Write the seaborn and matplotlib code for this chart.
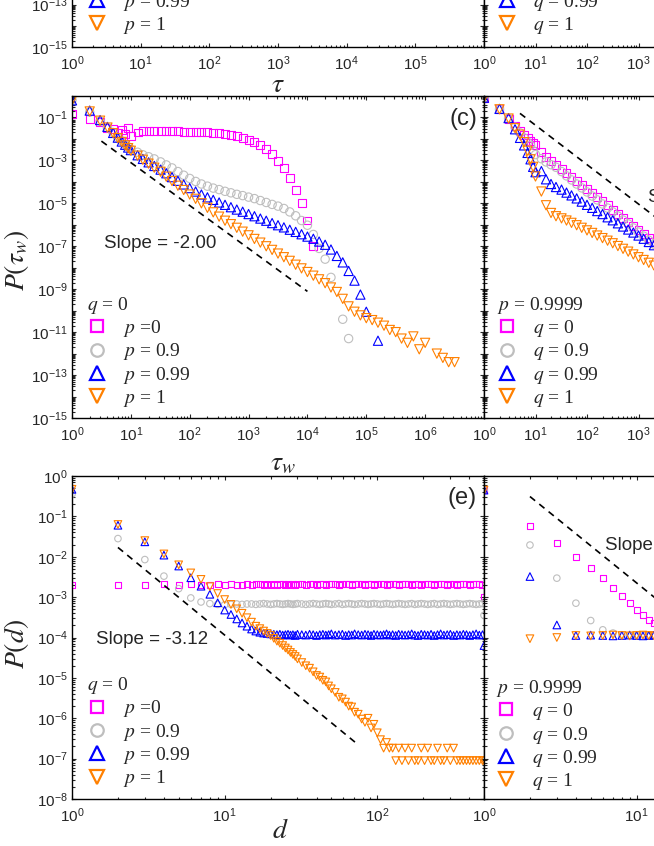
import numpy as np
import matplotlib
matplotlib.use("Agg")
import matplotlib.pyplot as plt
from matplotlib import ticker
from matplotlib.lines import Line2D
import seaborn as sns

nan = np.nan

# ---------------- panel (c): P(tau_w), q = 0  (values are log10 P)
tau_c = [1, 2, 3, 4, 5, 6, 7, 8, 9, 10,
         13, 16, 20, 25, 32, 40, 50, 63, 79, 100,
         126, 158, 200, 251, 316, 398, 501, 631, 794, 1000,
         1259, 1585, 1995, 2512, 3162, 3981, 5012, 6310, 7943, 1e4,
         1.26e4, 1.58e4, 2.0e4, 2.51e4, 3.16e4, 3.98e4, 5.01e4, 6.31e4, 7.94e4, 1e5,
         1.26e5, 1.58e5, 2.0e5, 2.51e5, 3.16e5, 3.98e5, 5.01e5, 6.31e5, 7.94e5, 1e6,
         1.26e6, 1.58e6, 2.0e6, 2.51e6, 3.16e6]
c_p0 = [-0.86, -1.09, -1.21, -1.48, -1.55, -1.72, -1.60, -1.75, -1.50, -1.85,
        -1.70, -1.62, -1.64, -1.63, -1.64, -1.64, -1.65, -1.65, -1.66, -1.66,
        -1.67, -1.68, -1.69, -1.71, -1.73, -1.76, -1.80, -1.86, -1.94, -2.03,
        -2.15, -2.30, -2.48, -2.72, -3.02, -3.35, -3.80, -4.40, -5.00, -5.80,
        -7.00]
c_p09 = [-0.18, -0.75, -1.17, -1.48, -1.71, -1.95, -2.10, -2.26, -2.37, -2.49,
         -2.62, -2.74, -2.83, -2.93, -3.07, -3.21, -3.35, -3.52, -3.69, -3.84,
         -3.98, -4.10, -4.20, -4.29, -4.36, -4.44, -4.51, -4.58, -4.64, -4.71,
         -4.78, -4.87, -4.96, -5.05, -5.13, -5.24, -5.40, -5.58, -5.80, -6.02,
         -6.45, -7.10, -7.60, -8.45, nan, -10.40, -11.30]
c_p099 = [-0.20, -0.68, -1.12, -1.44, -1.72, -1.94, -2.12, -2.27, -2.40, -2.52,
          -2.76, -2.93, -3.09, -3.26, -3.43, -3.60, -3.78, -3.95, -4.12, -4.29,
          -4.45, -4.59, -4.72, -4.84, -4.96, -5.07, -5.18, -5.29, -5.39, -5.50,
          -5.60, -5.71, -5.81, -5.92, -6.02, -6.12, -6.23, -6.33, -6.44, -6.55,
          -6.65, -6.78, -6.93, -7.15, -7.45, -7.75, -8.15, -8.60, -9.25, -10.05,
          nan, -11.40]
c_p1 = [-0.20, -0.72, -1.15, -1.47, -1.73, -1.96, -2.14, -2.30, -2.43, -2.55,
        -2.78, -2.97, -3.15, -3.34, -3.53, -3.76, -3.96, -4.18, -4.38, -4.59,
        -4.79, -5.00, -5.21, -5.42, -5.62, -5.81, -5.97, -6.14, -6.32, -6.49,
        -6.66, -6.83, -7.00, -7.17, -7.34, -7.51, -7.68, -7.86, -8.03, -8.20,
        -8.37, -8.54, -8.72, -8.92, -9.13, -9.45, -9.80, -10.05, -10.22, -10.35,
        -10.44, -10.56, -10.70, -10.90, -11.00, -11.30, -11.50, -11.20, -11.80, -11.50,
        nan, -12.00, -12.20, -12.40, -12.40]
c_slope_x = [3.16, 1.0e4]
c_slope_y = [7.9e-3, 7.9e-10]

# ---------------- panel (d): P(tau_w), p = 0.9999
tau_d = [1, 2, 3, 4, 5, 6, 7, 8, 9, 10,
         13, 16, 20, 25, 32, 40, 50, 63, 79, 100,
         126, 158, 200, 251, 316, 398, 501, 631, 794, 1000,
         1259, 1585, 1995, 2512, 3162]
d_q0 = [-0.08, -0.62, -1.05, -1.42, -1.62, -1.80, -1.95, -2.08, -2.20, -2.30,
        -2.62, -2.82, -3.01, -3.20, -3.39, -3.58, -3.77, -3.96, -4.15, -4.34,
        -4.53, -4.72, -4.91, -5.10, -5.29, -5.48, -5.67, -5.86, -6.05, -6.24,
        -6.43, -6.62, -6.81, -7.00, -7.19]
d_q09 = [-0.08, -0.62, -1.05, -1.45, -1.72, -1.95, -2.15, -2.30, -2.55, -2.73,
         -2.92, -3.07, -3.20, -3.32, -3.52, -3.72, -3.91, -4.10, -4.28, -4.47,
         -4.66, -4.84, -5.03, -5.22, -5.40, -5.59, -5.78, -5.96, -6.15, -6.34,
         -6.53, -6.72, -6.90, -7.08, -7.25]
d_q099 = [-0.08, -0.60, -1.03, -1.55, -1.95, -2.30, -2.65, -2.95, -3.30, -3.55,
          -3.50, -3.88, -4.10, -4.24, -4.36, -4.50, -4.63, -4.77, -4.92, -5.07,
          -5.21, -5.36, -5.50, -5.65, -5.79, -5.93, -6.08, -6.22, -6.36, -6.50,
          -6.65, -6.80, -6.95, -7.10, -7.25]
d_q1 = [-0.08, -0.62, -1.05, -1.50, -1.80, -2.15, -2.55, -2.95, -3.30, -3.75,
        -4.45, -5.09, -5.45, -5.60, -5.70, -5.80, -5.91, -6.02, -6.14, -6.26,
        -6.38, -6.50, -6.62, -6.74, -6.86, -6.99, -7.12, -7.25, -7.38, -7.51,
        -7.64, -7.77, -7.90, -8.03, -8.16]
d_slope_x = [5.0, 3.2e4]
d_slope_y = [0.155, 1.6e-8]

# ---------------- panel (e): P(d), q = 0
dist_e = [1, 2, 3, 4, 5, 6, 7, 8, 9, 10,
          11, 12, 13, 14, 15, 16, 17, 18, 19, 20,
          21, 22, 23, 24, 25, 26, 27, 28, 29, 30,
          32, 34, 36, 38, 40, 42, 44, 46, 48, 50,
          53, 56, 59, 62, 65, 68, 71, 75, 79, 83,
          87, 91, 95, 100, 105, 110, 115, 120, 126, 132,
          138, 145, 152, 160, 168, 176, 185, 194, 204, 214,
          225, 236, 248, 260, 273, 287, 301, 316, 332, 348,
          366, 384, 403, 423, 444, 466, 489, 500]
e_p0 = [-2.69, -2.69, -2.69, -2.68, -2.69, -2.68, -2.69, -2.69, -2.68, -2.69,
        -2.68, -2.69, -2.69, -2.68, -2.69, -2.68, -2.68, -2.69, -2.68, -2.69,
        -2.68, -2.69, -2.68, -2.68, -2.69, -2.68, -2.69, -2.68, -2.69, -2.68,
        -2.67, -2.69, -2.68, -2.68, -2.69, -2.67, -2.68, -2.69, -2.68, -2.67,
        -2.68, -2.69, -2.68, -2.67, -2.68, -2.69, -2.68, -2.68, -2.67, -2.69,
        -2.68, -2.67, -2.69, -2.68, -2.68, -2.67, -2.69, -2.68, -2.67, -2.68,
        -2.69, -2.68, -2.67, -2.68, -2.69, -2.67, -2.68, -2.69, -2.68, -2.67,
        -2.68, -2.69, -2.67, -2.68, -2.68, -2.69, -2.67, -2.68, -2.69, -2.68,
        -2.67, -2.68, -2.69, -2.68, -2.67, -2.68, -2.69, -3.00]
e_p09 = [-0.45, -1.55, -2.07, -2.48, -2.79, -3.02, -3.12, -3.16, -3.18, -3.19,
         -3.18, -3.17, -3.18, -3.17, -3.17, -3.18, -3.17, -3.16, -3.17, -3.18,
         -3.17, -3.16, -3.17, -3.18, -3.17, -3.16, -3.17, -3.18, -3.17, -3.16,
         -3.17, -3.18, -3.17, -3.16, -3.17, -3.18, -3.17, -3.16, -3.17, -3.18,
         -3.17, -3.16, -3.18, -3.17, -3.16, -3.17, -3.18, -3.17, -3.16, -3.17,
         -3.18, -3.17, -3.16, -3.17, -3.18, -3.17, -3.16, -3.17, -3.18, -3.17,
         -3.16, -3.17, -3.18, -3.17, -3.16, -3.18, -3.17, -3.16, -3.17, -3.18,
         -3.17, -3.16, -3.18, -3.17, -3.16, -3.17, -3.18, -3.17, -3.16, -3.17,
         -3.18, -3.17, -3.16, -3.17, -3.18, -3.17, -3.16, -3.45]
e_p099 = [-0.33, -1.22, -1.63, -1.96, -2.23, -2.52, -2.73, -2.93, -3.14, -3.32,
          -3.43, -3.54, -3.64, -3.72, -3.79, -3.84, -3.87, -3.89, -3.90, -3.91,
          -3.92, -3.93, -3.92, -3.94, -3.93, -3.92, -3.94, -3.93, -3.95, -3.92,
          -3.93, -3.94, -3.92, -3.93, -3.95, -3.93, -3.92, -3.94, -3.93, -3.91,
          -3.94, -3.93, -3.92, -3.95, -3.93, -3.94, -3.91, -3.93, -3.94, -3.92,
          -3.93, -3.95, -3.92, -3.93, -3.94, -3.93, -3.91, -3.94, -3.93, -3.95,
          -3.92, -3.93, -3.94, -3.93, -3.91, -3.94, -3.95, -3.92, -3.93, -3.94,
          -3.92, -3.95, -3.93, -3.91, -3.94, -3.93, -3.92, -3.95, -3.93, -3.94,
          -3.92, -3.93, -3.95, -3.93, -3.91, -3.94, -3.93, -4.20]
e_p1 = [-0.33, -1.20, -1.60, -1.93, -2.20, -2.40, -2.56, -2.74, -2.91, -3.06,
        -3.18, -3.29, -3.40, -3.51, -3.62, -3.72, -3.78, -3.84, -3.90, -3.95,
        -4.02, -4.09, -4.14, -4.20, -4.26, -4.31, -4.37, -4.42, -4.47, -4.53,
        -4.62, -4.70, -4.76, -4.85, -4.94, -4.98, -5.06, -5.10, -5.20, -5.27,
        -5.36, -5.48, -5.52, -5.60, -5.70, -5.72, -5.85, -5.90, -6.02, -6.10,
        -6.00, -6.24, -6.15, -6.36, -6.53, -6.74, -6.60, -6.74, -6.74, -7.05,
        -6.74, -7.05, -6.74, -7.05, -6.74, -7.05, -7.05, -6.74, -7.05, -6.74,
        -7.05, -7.05, -6.74, -7.05, -7.05, -6.74, -7.05, -6.74, -7.05, -7.05,
        -7.05, -7.05, -7.05, -7.05, -7.05, -7.05, -7.05, -7.05]
e_slope_x = [2.0, 72.0]
e_slope_y = [1.7e-2, 2.5e-7]

# ---------------- panel (f): P(d), p = 0.9999
dist_f = [1, 2, 3, 4, 5, 6, 7, 8, 9, 10,
          11, 12, 13, 14, 15, 16, 17, 18, 19, 20]
f_q0 = [-0.35, -1.25, -1.65, -2.00, -2.29, -2.53, -2.78, -2.97, -3.15, -3.32,
        -3.44, -3.56, -3.65, -3.72, -3.78, -3.83, -3.87, -3.90, -3.92, -3.93]
f_q09 = [-0.35, -1.71, -2.53, -3.15, -3.58, -3.81, -3.89, -3.94, -3.95, -3.95,
         -3.94, -3.95, -3.96, -3.95, -3.94, -3.95, -3.96, -3.95, -3.94, -3.95]
f_q099 = [-0.35, -2.49, -3.69, -3.95, -3.94, -3.95, -3.96, -3.95, -3.94, -3.95,
          -3.96, -3.95, -3.94, -3.95, -3.96, -3.95, -3.94, -3.95, -3.96, -3.95]
f_q1 = [-0.35, -4.03, -4.00, -3.95, -3.96, -3.95, -3.94, -3.95, -3.96, -3.95,
        -3.94, -3.95, -3.96, -3.95, -3.94, -3.95, -3.96, -3.95, -3.94, -3.95]
f_slope_x = [2.0, 63.0]
f_slope_y = [0.31, 8.0e-6]

colors = ["#ff00ff", "#bebebe", "#0000ff", "#ff8000"]
markers = ["s", "o", "^", "v"]

sns.set_style("ticks")
plt.rcParams["font.family"] = ["Liberation Sans", "DejaVu Sans"]
plt.rcParams["mathtext.fontset"] = "stix"
plt.rcParams["axes.linewidth"] = 1.0

W, H = 654, 846
fig = plt.figure(figsize=(W / 100, H / 100), dpi=100)


def add(left, top, w, h):
    return fig.add_axes([left / W, 1 - (top + h) / H, w / W, h / H])


ax_a = add(72, -273.5, 412, 321)
ax_b = add(484, -273.5, 412, 321)
ax_c = add(72, 96, 412, 322)
ax_d = add(484, 96, 412, 322)
ax_e = add(72, 476, 412, 323)
ax_f = add(484, 476, 412, 323)


def log_axis(axis, shown):
    axis.set_major_locator(ticker.LogLocator(base=10, numticks=100))
    axis.set_minor_locator(ticker.LogLocator(base=10, subs=np.arange(2, 10), numticks=100))
    axis.set_minor_formatter(ticker.NullFormatter())

    def fmt(v, pos):
        e = int(round(np.log10(v)))
        return r"$\mathdefault{10^{%d}}$" % e if e in shown else ""
    axis.set_major_formatter(ticker.FuncFormatter(fmt))


def style(ax, xlim, ylim, xshown, yshown):
    ax.set_xscale("log")
    ax.set_yscale("log")
    ax.set_xlim(*xlim)
    ax.set_ylim(*ylim)
    log_axis(ax.xaxis, xshown)
    log_axis(ax.yaxis, yshown)
    ax.tick_params(which="both", direction="in", top=True, right=True,
                   labelsize=11, width=0.8)
    ax.tick_params(axis="x", pad=5)
    ax.tick_params(axis="y", pad=3)
    ax.tick_params(which="major", length=3.2)
    ax.tick_params(which="minor", length=1.8)
    for s in ax.spines.values():
        s.set_color("black")
        s.set_linewidth(1.0)


def series(ax, x, logs, k, size):
    sns.scatterplot(x=x[:len(logs)], y=10 ** np.array(logs), ax=ax,
                    marker=markers[k], s=size[k], color=colors[k],
                    facecolors="none", edgecolor=colors[k], linewidth=0.8,
                    legend=False)


def slope(ax, xs, ys, text, tx, ty):
    ax.plot(xs, ys, color="black", lw=1.2, ls=(0, (4, 3.2)))
    ax.text(tx, ty, text, fontsize=13.5, ha="left", va="center")


def add_legend(ax, title, labels, x0, y0):
    ms = [8.5, 9, 10.5, 10.5]
    handles = [Line2D([], [], ls="none", marker=m, ms=s, mfc="none", mec=c, mew=1.6)
               for m, c, s in zip(markers, colors, ms)]
    leg = ax.legend(handles, labels, title=title, loc="lower left",
                    bbox_to_anchor=(x0, y0), frameon=False, borderpad=0,
                    borderaxespad=0, handlelength=1.0, handletextpad=0.85,
                    labelspacing=0.12,
                    prop={"family": "Liberation Serif", "size": 14},
                    title_fontproperties={"family": "Liberation Serif", "size": 14})
    leg._legend_box.align = "left"


p_labels = ["$p$ =0", "$p$ = 0.9", "$p$ = 0.99", "$p$ = 1"]
q_labels = ["$q$ = 0", "$q$ = 0.9", "$q$ = 0.99", "$q$ = 1"]
size_big = [33, 36, 44, 44]
size_small = [19, 22, 30, 30]

# (a), (b): only their lower edges fall inside the picture
style(ax_a, (1, 1e6), (1e-15, 1), range(0, 6), range(-15, 0, 2))
style(ax_b, (1, 1e8), (1e-15, 1), range(0, 8), [])
add_legend(ax_a, "$q$ = 0", p_labels, 0.036, 0.036)
add_legend(ax_b, "$p$ = 0.9999", q_labels, 0.032, 0.036)
ax_a.set_xlabel(r"$\tau$", fontsize=20)
ax_a.xaxis.set_label_coords(0.5, -0.075)

# (c)
style(ax_c, (1, 1e7), (1e-15, 1), range(0, 7), range(-15, 0, 2))
for k, vals in enumerate([c_p0, c_p09, c_p099, c_p1]):
    series(ax_c, tau_c, vals, k, size_big)
slope(ax_c, c_slope_x, c_slope_y, "Slope = -2.00", 3.5, 1.35e-7)
ax_c.text(0.983, 0.929, "(c)", transform=ax_c.transAxes, fontsize=17,
          ha="right", va="center")
add_legend(ax_c, "$q$ = 0", p_labels, 0.036, 0.028)
ax_c.set_xlabel(r"$\tau_w$", fontsize=20)
ax_c.xaxis.set_label_coords(0.512, -0.1)
ax_c.set_ylabel(r"$P(\tau_w)$", fontsize=20)
ax_c.yaxis.set_label_coords(-0.1, 0.49)

# (d)
style(ax_d, (1, 1e8), (1e-15, 1), range(0, 8), [])
for k, vals in enumerate([d_q0, d_q09, d_q099, d_q1]):
    series(ax_d, tau_d, vals, k, size_big)
slope(ax_d, d_slope_x, d_slope_y, "Slope = -1.85", 1500, 1.9e-5)
add_legend(ax_d, "$p$ = 0.9999", q_labels, 0.032, 0.028)

# (e)
style(ax_e, (1, 500), (1e-8, 1), range(0, 3), range(-8, 1))
for k, vals in enumerate([e_p0, e_p09, e_p099, e_p1]):
    series(ax_e, dist_e, vals, k, size_small)
slope(ax_e, e_slope_x, e_slope_y, "Slope = -3.12", 1.44, 9.1e-5)
ax_e.text(0.983, 0.933, "(e)", transform=ax_e.transAxes, fontsize=17,
          ha="right", va="center")
add_legend(ax_e, "$q$ = 0", p_labels, 0.036, 0.03)
ax_e.set_xlabel(r"$d$", fontsize=20)
ax_e.xaxis.set_label_coords(0.505, -0.06)
ax_e.set_ylabel(r"$P(d)$", fontsize=20)
ax_e.yaxis.set_label_coords(-0.1, 0.48)

# (f)
style(ax_f, (1, 500), (1e-8, 1), range(0, 3), [])
for k, vals in enumerate([f_q0, f_q09, f_q099, f_q1]):
    series(ax_f, dist_f, vals, k, size_small)
slope(ax_f, f_slope_x, f_slope_y, "Slope = -3.06", 6.2, 1.95e-2)
add_legend(ax_f, "$p$ = 0.9999", q_labels, 0.03, 0.021)

fig.savefig("out.png", dpi=100)
